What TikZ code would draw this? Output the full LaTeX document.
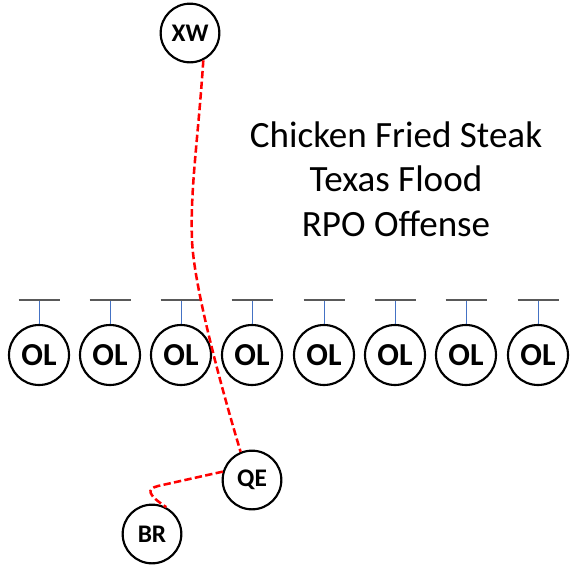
\documentclass[tikz,border=0pt]{standalone}
\usepackage{fontspec}
\setmainfont{Carlito}
\usetikzlibrary{calc}

\begin{document}
\begin{tikzpicture}[x=0.75pt, y=-0.75pt,
    player/.style={circle, draw, line width=1.6pt, minimum size=44pt, inner sep=0pt,
      font=\bfseries\fontsize{19}{19}\selectfont},
    lineman/.style={player, minimum size=45pt, font=\bfseries\fontsize{24}{24}\selectfont},
    route/.style={draw=red, line width=1.9pt, dash pattern=on 5.5pt off 2.5pt},
    stem/.style={draw={rgb,255:red,68;green,114;blue,196}, line width=0.75pt},
    bar/.style={draw={rgb,255:red,89;green,89;blue,89}, line width=1.5pt}]
        \useasboundingbox (0,0) rectangle (576,565);

        \node[player] (xw) at (190,33) {XW};
        \node[align=center, font=\fontsize{27.8}{33.5}\selectfont] (title) at (396,179)
          {Chicken Fried Steak\\Texas Flood\\RPO Offense};

        \node[lineman] (ol1) at (39,355) {OL};
        \node[lineman] (ol2) at (110,355) {OL};
        \node[lineman] (ol3) at (181,355) {OL};
        \node[lineman] (ol4) at (252,355) {OL};
        \node[lineman] (ol5) at (324,355) {OL};
        \node[lineman] (ol6) at (395,355) {OL};
        \node[lineman] (ol7) at (466,355) {OL};
        \node[lineman] (ol8) at (538,355) {OL};

        \node[player] (qe) at (252,480) {QE};
        \node[player] (br) at (152,534) {BR};

        \foreach \i in {1,...,8} {
          \draw[stem] (ol\i.north) -- ++(0,-24) coordinate (t\i);
          \draw[bar] ($(t\i)+(-20.5,0)$) -- ($(t\i)+(20.5,0)$);
        }

        \draw[route] (xw.-64) .. controls (198,140) and (190,190) .. (192,240)
          .. controls (194,290) and (225,400) .. (qe.112);
        \draw[route] (qe.164) -- (158,486) .. controls (146,489) and (148,495) .. (br.62);
      \end{tikzpicture}
\end{document}
